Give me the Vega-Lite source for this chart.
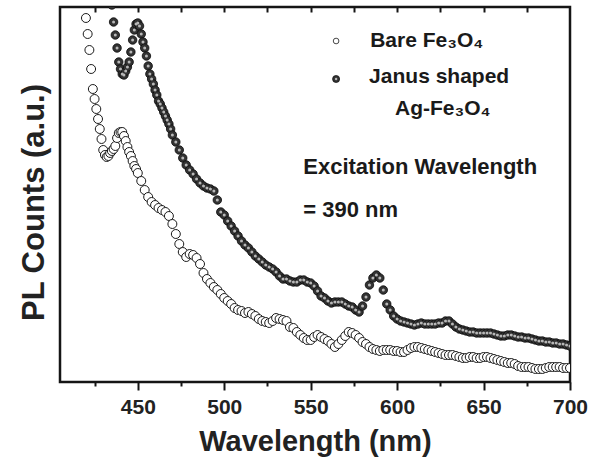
{
  "$schema": "https://vega.github.io/schema/vega-lite/v6.json",
  "width": 510,
  "height": 375,
  "autosize": "none",
  "padding": {"left": 60, "top": 7, "right": 28, "bottom": 77},
  "background": "white",
  "config": {
    "font": "Liberation Sans",
    "view": {"stroke": "#151515", "strokeWidth": 2.5},
    "axis": {
      "labelFont": "Liberation Sans",
      "labelFontWeight": "bold",
      "labelFontSize": 21,
      "labelColor": "#222222",
      "titleFont": "Liberation Sans",
      "titleFontWeight": "bold",
      "titleColor": "#222222",
      "tickColor": "#151515",
      "tickWidth": 2,
      "grid": false,
      "domain": false
    }
  },
  "datasets": {
    "bare": [
      {"w":420,"v":364},{"w":421,"v":348},{"w":422,"v":332},{"w":423,"v":313},{"w":424,"v":293},
      {"w":425,"v":283},{"w":426,"v":273},{"w":427,"v":263},{"w":428,"v":253},{"w":429,"v":243},
      {"w":430,"v":232},{"w":431,"v":227},{"w":432,"v":225},{"w":433,"v":226},{"w":434,"v":229},
      {"w":435,"v":231},{"w":436,"v":233},{"w":437,"v":236},{"w":438,"v":244},{"w":439,"v":249},
      {"w":440,"v":250},{"w":441,"v":250},{"w":442,"v":246},{"w":443,"v":241},{"w":444,"v":235},
      {"w":445,"v":230},{"w":446,"v":226},{"w":447,"v":221},{"w":448,"v":216},{"w":449,"v":213},
      {"w":450,"v":209},{"w":452,"v":201},{"w":454,"v":192},{"w":456,"v":185},{"w":458,"v":180},
      {"w":460,"v":177},{"w":462,"v":174},{"w":464,"v":172},{"w":466,"v":170},{"w":468,"v":166},
      {"w":470,"v":158},{"w":472,"v":148},{"w":474,"v":138},{"w":476,"v":130},{"w":478,"v":125},
      {"w":480,"v":128},{"w":482,"v":127},{"w":484,"v":124},{"w":486,"v":118},{"w":488,"v":109},
      {"w":490,"v":103},{"w":492,"v":99},{"w":494,"v":95},{"w":496,"v":92},{"w":498,"v":88},
      {"w":500,"v":84},{"w":502,"v":81},{"w":504,"v":78},{"w":506,"v":74},{"w":508,"v":72},
      {"w":510,"v":71},{"w":512,"v":69},{"w":514,"v":70},{"w":516,"v":68},{"w":518,"v":66},
      {"w":520,"v":63},{"w":522,"v":61},{"w":524,"v":60},{"w":526,"v":59},{"w":528,"v":61},
      {"w":530,"v":64},{"w":532,"v":63},{"w":534,"v":62},{"w":536,"v":61},{"w":538,"v":55},
      {"w":540,"v":54},{"w":542,"v":50},{"w":544,"v":47},{"w":546,"v":44},{"w":548,"v":42},
      {"w":550,"v":42},{"w":552,"v":45},{"w":554,"v":47},{"w":556,"v":45},{"w":558,"v":43},
      {"w":560,"v":41},{"w":562,"v":38},{"w":564,"v":35},{"w":566,"v":38},{"w":568,"v":42},
      {"w":570,"v":46},{"w":572,"v":50},{"w":574,"v":49},{"w":576,"v":47},{"w":578,"v":44},
      {"w":580,"v":40},{"w":582,"v":38},{"w":584,"v":35},{"w":586,"v":33},{"w":588,"v":32},
      {"w":590,"v":31},{"w":592,"v":32},{"w":594,"v":32},{"w":596,"v":32},{"w":598,"v":31},
      {"w":600,"v":31},{"w":602,"v":30},{"w":604,"v":30},{"w":606,"v":32},{"w":608,"v":34},
      {"w":610,"v":35},{"w":612,"v":35},{"w":614,"v":34},{"w":616,"v":33},{"w":618,"v":32},
      {"w":620,"v":31},{"w":622,"v":30},{"w":624,"v":29},{"w":626,"v":28},{"w":628,"v":27},
      {"w":630,"v":27},{"w":632,"v":27},{"w":634,"v":26},{"w":636,"v":25},{"w":638,"v":24},
      {"w":640,"v":24},{"w":642,"v":25},{"w":644,"v":25},{"w":646,"v":24},{"w":648,"v":24},
      {"w":650,"v":25},{"w":652,"v":25},{"w":654,"v":24},{"w":656,"v":23},{"w":658,"v":22},
      {"w":660,"v":21},{"w":662,"v":20},{"w":664,"v":19},{"w":666,"v":19},{"w":668,"v":18},
      {"w":670,"v":16},{"w":672,"v":15},{"w":674,"v":15},{"w":676,"v":15},{"w":678,"v":14},
      {"w":680,"v":13},{"w":682,"v":13},{"w":684,"v":13},{"w":686,"v":14},{"w":688,"v":15},
      {"w":690,"v":15},{"w":692,"v":15},{"w":694,"v":15},{"w":696,"v":14},{"w":698,"v":14},
      {"w":700,"v":14}
    ],
    "janus": [
      {"w":435,"v":377},{"w":436,"v":360},{"w":437,"v":347},{"w":438,"v":334},{"w":439,"v":320},
      {"w":440,"v":313},{"w":441,"v":308},{"w":442,"v":307},{"w":443,"v":311},{"w":444,"v":315},
      {"w":445,"v":320},{"w":446,"v":330},{"w":447,"v":342},{"w":448,"v":352},{"w":449,"v":358},
      {"w":450,"v":359},{"w":451,"v":356},{"w":452,"v":348},{"w":453,"v":340},{"w":454,"v":334},
      {"w":455,"v":326},{"w":456,"v":316},{"w":457,"v":308},{"w":458,"v":303},{"w":459,"v":298},
      {"w":460,"v":292},{"w":461,"v":287},{"w":462,"v":281},{"w":463,"v":278},{"w":464,"v":274},
      {"w":465,"v":270},{"w":466,"v":266},{"w":467,"v":262},{"w":468,"v":258},{"w":469,"v":253},
      {"w":470,"v":247},{"w":472,"v":240},{"w":474,"v":232},{"w":476,"v":224},{"w":478,"v":217},
      {"w":480,"v":212},{"w":482,"v":208},{"w":484,"v":203},{"w":486,"v":199},{"w":488,"v":196},
      {"w":490,"v":194},{"w":492,"v":193},{"w":494,"v":191},{"w":496,"v":182},{"w":498,"v":170},
      {"w":500,"v":167},{"w":502,"v":161},{"w":504,"v":156},{"w":506,"v":151},{"w":508,"v":146},
      {"w":510,"v":141},{"w":512,"v":137},{"w":514,"v":134},{"w":516,"v":130},{"w":518,"v":126},
      {"w":520,"v":123},{"w":522,"v":120},{"w":524,"v":117},{"w":526,"v":115},{"w":528,"v":113},
      {"w":530,"v":110},{"w":532,"v":106},{"w":534,"v":103},{"w":536,"v":103},{"w":538,"v":101},
      {"w":540,"v":100},{"w":542,"v":100},{"w":544,"v":102},{"w":546,"v":102},{"w":548,"v":100},
      {"w":550,"v":99},{"w":552,"v":96},{"w":554,"v":91},{"w":556,"v":86},{"w":558,"v":84},
      {"w":560,"v":81},{"w":562,"v":79},{"w":564,"v":80},{"w":566,"v":80},{"w":568,"v":80},
      {"w":570,"v":78},{"w":572,"v":76},{"w":574,"v":75},{"w":576,"v":72},{"w":578,"v":70},
      {"w":580,"v":76},{"w":582,"v":85},{"w":584,"v":97},{"w":586,"v":104},{"w":588,"v":107},
      {"w":590,"v":104},{"w":592,"v":92},{"w":594,"v":78},{"w":596,"v":72},{"w":598,"v":66},
      {"w":600,"v":63},{"w":602,"v":61},{"w":604,"v":60},{"w":606,"v":59},{"w":608,"v":58},
      {"w":610,"v":57},{"w":612,"v":58},{"w":614,"v":59},{"w":616,"v":58},{"w":618,"v":58},
      {"w":620,"v":58},{"w":622,"v":58},{"w":624,"v":59},{"w":626,"v":59},{"w":628,"v":61},
      {"w":630,"v":61},{"w":632,"v":58},{"w":634,"v":55},{"w":636,"v":53},{"w":638,"v":52},
      {"w":640,"v":51},{"w":642,"v":50},{"w":644,"v":50},{"w":646,"v":49},{"w":648,"v":49},
      {"w":650,"v":49},{"w":652,"v":49},{"w":654,"v":49},{"w":656,"v":48},{"w":658,"v":47},
      {"w":660,"v":46},{"w":662,"v":46},{"w":664,"v":47},{"w":666,"v":47},{"w":668,"v":46},
      {"w":670,"v":45},{"w":672,"v":45},{"w":674,"v":44},{"w":676,"v":44},{"w":678,"v":43},
      {"w":680,"v":42},{"w":682,"v":41},{"w":684,"v":41},{"w":686,"v":40},{"w":688,"v":40},
      {"w":690,"v":39},{"w":692,"v":39},{"w":694,"v":38},{"w":696,"v":38},{"w":698,"v":37},
      {"w":700,"v":36}
    ]
  },
  "resolve": {"axis": {"x": "independent", "y": "independent"}},
  "layer": [
    {
      "data": {"name": "bare"},
      "mark": {"type": "point", "shape": "circle", "filled": true, "fill": "white", "stroke": "#1a1a1a", "strokeWidth": 1, "size": 80, "opacity": 1, "clip": true},
      "encoding": {
        "x": {"field": "w", "type": "quantitative", "scale": {"domain": [405, 700], "nice": false, "zero": false},
              "axis": {"orient": "bottom", "values": [425,450,475,500,525,550,575,600,625,650,675,700],
                       "labelExpr": "datum.value % 50 === 0 ? datum.label : ''",
                       "tickSize": {"condition": {"test": "datum.value % 50 === 0", "value": 8}, "value": 4},
                       "labelPadding": 6, "labelOverlap": false, "labelFlush": false,
                       "title": "Wavelength (nm)", "titleFontSize": 29, "titlePadding": 10}},
        "y": {"field": "v", "type": "quantitative", "scale": {"domain": [0, 375], "nice": false, "zero": false},
              "axis": {"orient": "left", "ticks": false, "labels": true, "labelColor": "transparent", "labelFontSize": 1, "labelPadding": 0, "values": [0], "title": "PL Counts (a.u.)", "titleFontSize": 31, "titlePadding": 9, "titleY": 195}}
      }
    },
    {
      "data": {"name": "janus"},
      "mark": {"type": "point", "shape": "circle", "filled": true, "fill": "#333333", "stroke": "#0a0a0a", "strokeWidth": 0.8, "size": 72, "opacity": 1, "clip": true},
      "encoding": {
        "x": {"field": "w", "type": "quantitative",
              "axis": {"orient": "top", "values": [425,450,475,500,525,550,575,600,625,650,675], "labels": false, "tickSize": -5, "title": null}},
        "y": {"field": "v", "type": "quantitative", "axis": null}
      }
    },
    {
      "data": {"name": "janus"},
      "mark": {"type": "point", "shape": "circle", "filled": true, "fill": "#b8b8b8", "size": 9, "opacity": 1, "clip": true},
      "encoding": {
        "x": {"field": "w", "type": "quantitative", "axis": null},
        "y": {"field": "v", "type": "quantitative", "axis": null}
      }
    },
    {
      "data": {"values": [{}]},
      "mark": {"type": "point", "shape": "circle", "filled": true, "fill": "white", "stroke": "#333333", "strokeWidth": 0.9, "size": 32, "opacity": 1},
      "encoding": {
        "x": {"datum": 564.7, "type": "quantitative", "axis": null},
        "y": {"datum": 341, "type": "quantitative", "axis": null}
      }
    },
    {
      "data": {"values": [{}]},
      "mark": {"type": "point", "shape": "circle", "filled": true, "fill": "#333333", "stroke": "#0a0a0a", "strokeWidth": 0.7, "size": 50, "opacity": 1},
      "encoding": {
        "x": {"datum": 564.7, "type": "quantitative", "axis": null},
        "y": {"datum": 303, "type": "quantitative", "axis": null}
      }
    },
    {
      "data": {"values": [{}]},
      "mark": {"type": "point", "shape": "circle", "filled": true, "fill": "#b8b8b8", "size": 6, "opacity": 1},
      "encoding": {
        "x": {"datum": 564.7, "type": "quantitative", "axis": null},
        "y": {"datum": 303, "type": "quantitative", "axis": null}
      }
    },
    {
      "data": {"values": [{}]},
      "mark": {"type": "text", "align": "left", "baseline": "alphabetic", "font": "Liberation Sans", "fontWeight": "bold", "fontSize": 21, "color": "#1a1a1a"},
      "encoding": {
        "x": {"datum": 584.4, "type": "quantitative", "axis": null},
        "y": {"datum": 335, "type": "quantitative", "axis": null},
        "text": {"value": "Bare Fe₃O₄"}
      }
    },
    {
      "data": {"values": [{}]},
      "mark": {"type": "text", "align": "left", "baseline": "alphabetic", "font": "Liberation Sans", "fontWeight": "bold", "fontSize": 21, "color": "#1a1a1a"},
      "encoding": {
        "x": {"datum": 583.8, "type": "quantitative", "axis": null},
        "y": {"datum": 299, "type": "quantitative", "axis": null},
        "text": {"value": "Janus shaped"}
      }
    },
    {
      "data": {"values": [{}]},
      "mark": {"type": "text", "align": "left", "baseline": "alphabetic", "font": "Liberation Sans", "fontWeight": "bold", "fontSize": 21, "color": "#1a1a1a"},
      "encoding": {
        "x": {"datum": 598.8, "type": "quantitative", "axis": null},
        "y": {"datum": 267, "type": "quantitative", "axis": null},
        "text": {"value": "Ag-Fe₃O₄"}
      }
    },
    {
      "data": {"values": [{}]},
      "mark": {"type": "text", "align": "left", "baseline": "alphabetic", "font": "Liberation Sans", "fontWeight": "bold", "fontSize": 22, "color": "#1a1a1a"},
      "encoding": {
        "x": {"datum": 545.7, "type": "quantitative", "axis": null},
        "y": {"datum": 208, "type": "quantitative", "axis": null},
        "text": {"value": "Excitation Wavelength"}
      }
    },
    {
      "data": {"values": [{}]},
      "mark": {"type": "text", "align": "left", "baseline": "alphabetic", "font": "Liberation Sans", "fontWeight": "bold", "fontSize": 22, "color": "#1a1a1a"},
      "encoding": {
        "x": {"datum": 545.7, "type": "quantitative", "axis": null},
        "y": {"datum": 165, "type": "quantitative", "axis": null},
        "text": {"value": "= 390 nm"}
      }
    }
  ]
}
